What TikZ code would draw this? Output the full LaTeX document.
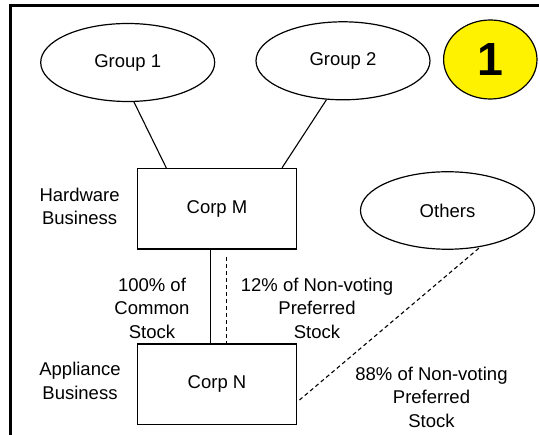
\documentclass[tikz,border=0pt]{standalone}
\usepackage{fontspec}
\setmainfont{Liberation Sans}
\usetikzlibrary{shapes.geometric}
\begin{document}
\begin{tikzpicture}[x=1pt,y=-1pt,
  txt/.style={font=\fontsize{18.5}{23.5}\selectfont},
  lbl/.style={txt, align=center, inner sep=0pt},
  oval/.style={draw, ellipse, line width=1.2pt, minimum width=174pt, minimum height=78pt, inner sep=0pt, txt},
  corp/.style={draw, rectangle, line width=1.3pt, minimum width=159pt, minimum height=80.5pt, inner sep=0pt, txt},
  link/.style={line width=1.1pt},
  dlink/.style={line width=1.1pt, dash pattern=on 4pt off 3pt}]
\useasboundingbox (0,0) rectangle (539,435);
\draw[line width=3pt, line join=miter] (10.5,445) -- (10.5,5.5) -- (550,5.5);
% ovals
\node[oval] (g1) at (127.7,62.5) {Group 1};
\node[oval] (g2) at (343,60.8) {Group 2};
\node[oval, minimum height=77.5pt] (oth) at (447.5,210.5) {Others};
\node[draw, ellipse, line width=1.2pt, fill=yellow, minimum width=93.4pt, minimum height=79pt, inner sep=0pt,
      font=\fontsize{46.5}{50}\selectfont\bfseries] (one) at (490.3,59.5) {1};
% corporations
\node[corp] (cm) at (217,208.8) {Corp M};
\node[corp] (cn) at (217,384.2) {Corp N};
% side labels
\node[lbl] (hw) at (79.6,206.5) {Hardware\\Business};
\node[lbl] (ap) at (80,380.7) {Appliance\\Business};
\node[lbl] (l100) at (152,308) {100\% of\\Common\\Stock};
\node[lbl] (l12) at (317,308) {12\% of Non-voting\\Preferred\\Stock};
\node[lbl] (l88) at (431.5,397) {88\% of Non-voting\\Preferred\\Stock};
% connectors
\draw[link] (g1.-81) -- ([xshift=-50.7pt]cm.north);
\draw[link] (g2.-113) -- ([xshift=65pt]cm.north);
\draw[link] ([xshift=-6.5pt]cm.south) -- ([xshift=-6.5pt]cn.north);
\coordinate (dtop) at (226.5,257);
\draw[dlink] (dtop) -- ([xshift=9.5pt]cn.north);
\draw[dlink, shorten <=2pt] (oth.-48) -- ([yshift=-17.8pt]cn.east);
\end{tikzpicture}
\end{document}
